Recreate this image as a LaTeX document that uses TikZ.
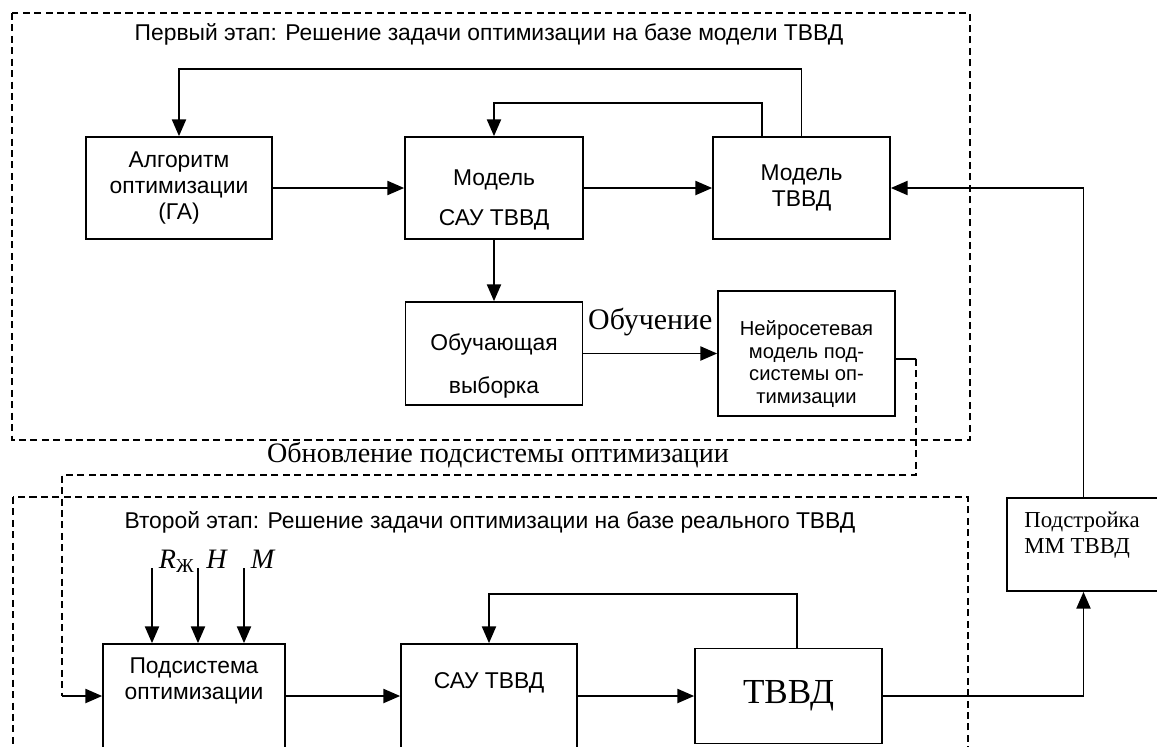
\documentclass[tikz,border=0pt]{standalone}
\usepackage{fontspec}
\setmainfont{Liberation Sans}
\newfontfamily\timesf{Liberation Serif}
\usepackage{tikz}
\usetikzlibrary{positioning, arrows, arrows.meta}
\tikzset{
	>={Triangle[length=9.5pt,width=8pt]},
	blok/.style={draw, line width=1pt, inner sep=0pt, minimum height=2.04cm},
	txt/.style={align=center, inner sep=0pt, font=\fontsize{13}{15}\selectfont},
	zag/.style={inner sep=0pt, font=\fontsize{13}{15}\selectfont},
	ramka/.style={line width=0.8pt, dash pattern=on 4pt off 2.5pt},
	svyaz/.style={line width=1pt},
	strel/.style={draw, line width=1pt, ->},
	vh/.style={inner sep=0pt, font=\fontsize{16}{18}\timesf\itshape}}

\begin{document}
\begin{tikzpicture}[x=0.02cm, y=-0.02cm]
		\useasboundingbox (0,0) rectangle (1157,747);
		
		% frames of the two stages
		\draw[ramka] (12,13) rectangle (970,440);
		\draw[ramka] (13,497) rectangle (968,770);
		\node[zag] (zag1) at (489,34) {Первый этап: Решение задачи оптимизации на базе модели ТВВД};
		\node[zag] (zag2) at (490,522) {Второй этап: Решение задачи оптимизации на базе реального ТВВД};
		
		% first stage
		\node[blok, txt, minimum width=3.72cm, minimum height=2.04cm] (alg) at (179,188) {Алгоритм\\оптимизации\\(ГА)};
		\node[blok, minimum width=3.56cm] (sau) at (494,188) {};
		\node[txt] (saut) at (494,200) {Модель\\[7.8pt]САУ ТВВД};
		\node[blok, txt, minimum width=3.54cm, minimum height=2.04cm] (mtvvd) at (801.5,188) {Модель\\ТВВД};
		\node[blok, minimum width=3.54cm, minimum height=2.06cm] (train) at (494,353.5) {};
		\node[txt] (traint) at (494,366) {Обучающая\\[9pt]выборка};
		\node[blok, minimum width=3.54cm, minimum height=2.5cm] (neuro) at (806.5,353.5) {};
		\node[txt, font=\fontsize{11.5}{13}\selectfont] (neurot) at (806.5,364) {Нейросетевая\\модель под-\\системы оп-\\тимизации};
		
		% second stage
		\node[blok, minimum width=3.64cm, minimum height=2.08cm] (podsys) at (194,696) {};
		\node[txt] (podsyst) at (194,681) {Подсистема\\оптимизации};
		\node[blok, minimum width=3.52cm, minimum height=2.08cm] (sau2) at (489,696) {};
		\node[txt] (sau2t) at (489,683) {САУ ТВВД};
		\node[blok, minimum width=3.74cm, minimum height=1.9cm, font=\fontsize{20}{22}\timesf] (tvvd) at (788.5,696) {ТВВД};
		\node[blok, minimum width=3.06cm, minimum height=1.86cm] (tune) at (1083.5,544.5) {};
		\node[txt, align=left, font=\fontsize{13}{15}\timesf] (tunet) at (1082,535) {Подстройка\\ММ ТВВД};
		
		% inputs
		\coordinate (in1) at (152,568);
		\coordinate (in2) at (198,568);
		\coordinate (in3) at (244,568);
		\node[vh, anchor=base west] (rzh) at ([xshift=0.13cm]in1) {R\textsubscript{\upshape Ж}};
		\node[vh, anchor=base west] (hh) at ([xshift=0.16cm]in2) {H};
		\node[vh, anchor=base west] (mm) at ([xshift=0.13cm]in3) {M};
		
		% turning points
		\coordinate (v1) at (500,69);
		\coordinate (v2) at (600,103);
		\coordinate (v3) at (600,594);
		\coordinate (k1) at (916,359);
		\coordinate (k2) at (916,475);
		\coordinate (k3) at (62,475);
		\coordinate (k4) at (62,696);
		
		\path 
		(alg) edge[strel] (sau)
		(sau) edge[strel] (mtvvd)
		(sau) edge[strel] (train)
		(podsys) edge[strel] (sau2)
		(sau2) edge[strel] (tvvd)
		;
		\draw[svyaz, ->] (in1) -- (in1 |- podsys.north);
		\draw[svyaz, ->] (in2) -- (in2 |- podsys.north);
		\draw[svyaz, ->] (in3) -- (in3 |- podsys.north);
		\draw[svyaz, ->] (train) -- node[midway, yshift=0.62cm, font=\fontsize{17}{19}\timesf] (lobuch) {Обучение} (neuro);
		\draw[svyaz, ->] (mtvvd.north) |- (v1) -| (alg.north);
		\draw[svyaz, ->] ([xshift=-0.79cm]mtvvd.north) |- (v2) -| (sau.north);
		\draw[svyaz, ->] ([xshift=0.17cm]tvvd.north) |- (v3) -| (sau2.north);
		\draw[svyaz, ->] (tvvd.east) -| (tune.south);
		\draw[svyaz, ->] (tune.north) |- (mtvvd.east);
		
		% update of the optimisation subsystem
		\draw[svyaz] ([yshift=-0.11cm]neuro.east) -- (k1);
		\draw[ramka] (k1) -- (k2) -- (k3) -- (k4);
		\draw[svyaz, ->] (k4) -- (podsys.west);
		\node[inner sep=0pt, font=\fontsize{16}{18}\timesf] (obnov) at (498,455) {Обновление подсистемы оптимизации};
		
	\end{tikzpicture}
\end{document}
